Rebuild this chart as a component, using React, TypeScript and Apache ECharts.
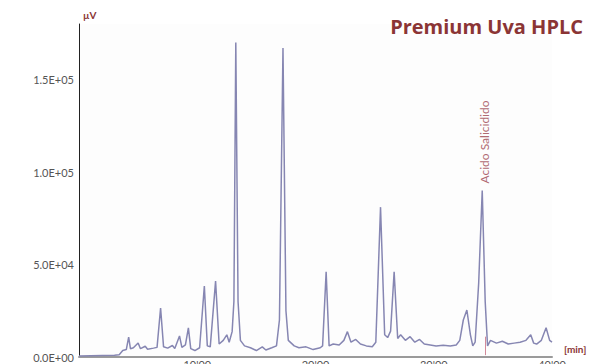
import React, { useEffect, useRef } from "react";
import * as echarts from "echarts";

const times = [
  0.0, 1.0, 2.0, 3.0, 3.4, 3.7, 4.0, 4.2, 4.35, 4.6, 5.0, 5.2, 5.6, 5.8, 6.3, 6.6, 6.9, 7.15, 7.5, 7.9,
  8.1, 8.5, 8.7, 9.0, 9.25, 9.45, 9.8, 10.2, 10.6, 10.85, 11.1, 11.55, 11.85, 12.2, 12.5, 12.7, 12.95, 13.1, 13.26, 13.45,
  13.65, 14.0, 14.5, 15.0, 15.5, 15.8, 16.3, 16.7, 16.95, 17.25, 17.5, 17.7, 18.2, 18.6, 19.2, 19.8, 20.4, 20.6, 20.9, 21.15,
  21.5, 22.0, 22.4, 22.7, 23.0, 23.4, 23.8, 24.3, 24.8, 25.1, 25.5, 25.85, 26.1, 26.35, 26.65, 26.95, 27.2, 27.6, 28.0, 28.4,
  28.8, 29.2, 29.7, 30.2, 30.8, 31.4, 31.9, 32.2, 32.5, 32.8, 33.1, 33.3, 33.5, 33.8, 34.1, 34.35, 34.55, 34.8, 35.3, 35.8,
  36.3, 36.8, 37.3, 37.8, 38.2, 38.45, 38.7, 39.1, 39.5, 39.8, 40.0,
];

const signal = [
  600, 700, 800, 900, 1200, 3500, 4000, 10800, 4500, 5000, 7600, 4500, 5800, 4200, 4800, 5200, 26500, 5500, 4800, 6200,
  4600, 11400, 5200, 6500, 15700, 4500, 3500, 5000, 38400, 6000, 5500, 41000, 7000, 9000, 12000, 8000, 13700, 30000, 170000, 30000,
  9000, 6000, 5000, 3500, 5500, 3800, 5000, 6000, 20000, 167000, 25000, 9000, 6000, 5000, 5500, 4000, 5000, 6000, 46000, 6000,
  7000, 6500, 9000, 13700, 8000, 9500, 7000, 6000, 5500, 8000, 81000, 12000, 10500, 14000, 46000, 10000, 12000, 9000, 11000, 8000,
  9500, 7000, 6500, 6000, 6300, 6000, 6500, 9000, 20000, 25400, 12000, 6000, 8000, 40000, 90000, 30000, 6000, 9000, 7500, 8500,
  7000, 7500, 8000, 9000, 12000, 7500, 7000, 9000, 15800, 9000, 8000,
];

const xTicks = [0, 10, 20, 30, 40];
const xTickLabels = ["0'00", "10'00", "20'00", "30'00", "40'00"];
const yTicks = [0, 50000, 100000, 150000];
const yTickLabels = ["0.0E+00", "5.0E+04", "1.0E+05", "1.5E+05"];

const titleText = "Premium Uva HPLC";
const yUnit = "µV";
const xUnit = "[min]";
const annotationLabel = "Acido Salicidido";
const annotationTime = 34.1;
const annotationValue = 90000;
const markerTime = 34.35;
const markerRange = [1000, 11000];

export default function App() {
  const ref = useRef<HTMLDivElement>(null);

  useEffect(() => {
    if (!ref.current) return;
    const chart = echarts.init(ref.current, undefined, { renderer: "svg" });
    const data = times.map((t, i) => [t, signal[i]]);
    const red = "#8b3535";
    chart.setOption({
      animation: false,
      backgroundColor: "#ffffff",
      title: {
        text: titleText,
        right: 2,
        top: 11,
        textStyle: { color: red, fontSize: 20, fontWeight: "bold", fontFamily: "Open Sans" },
      },
      grid: {
        left: 79,
        right: 38,
        top: 24,
        bottom: 7,
        outerBoundsMode: "none",
        containLabel: false,
        show: true,
        backgroundColor: "#fdfdfd",
        borderWidth: 0,
      },
      xAxis: {
        type: "value",
        min: 0,
        max: 40,
        interval: 10,
        name: xUnit,
        nameLocation: "end",
        nameGap: 12,
        nameTextStyle: {
          color: red,
          fontSize: 10,
          fontWeight: "bold",
          fontFamily: "Lato",
          verticalAlign: "bottom",
          padding: [0, 0, 3, 0],
        },
        axisLine: { show: true, lineStyle: { color: "#9a9a9a", width: 2 } },
        axisTick: { show: false },
        splitLine: { show: false },
        axisLabel: {
          showMinLabel: false,
          margin: 2,
          color: "#555",
          fontSize: 11,
          fontFamily: "Lato",
          formatter: (v: number) => {
            const i = xTicks.indexOf(v);
            return i >= 0 ? xTickLabels[i] : "";
          },
        },
      },
      yAxis: {
        type: "value",
        min: 0,
        max: 180000,
        interval: 50000,
        name: yUnit,
        nameLocation: "end",
        nameGap: 4,
        nameTextStyle: {
          color: red,
          fontSize: 10,
          fontWeight: "bold",
          fontFamily: "Lato",
          align: "left",
          padding: [0, 0, 0, 4],
        },
        axisLine: { show: true, lineStyle: { color: "#222", width: 1 } },
        axisTick: { show: false },
        splitLine: { show: false },
        axisLabel: {
          showMaxLabel: false,
          margin: 5,
          padding: [0, 0, 5, 0],
          color: "#555",
          fontSize: 11,
          fontFamily: "Lato",
          formatter: (v: number) => {
            const i = yTicks.indexOf(v);
            return i >= 0 ? yTickLabels[i] : "";
          },
        },
      },
      series: [
        {
          type: "line",
          data,
          showSymbol: false,
          symbol: "none",
          lineStyle: { color: "#8686b2", width: 1.5 },
          markLine: {
            silent: true,
            symbol: "none",
            label: { show: false },
            lineStyle: { color: "#d38a9a", width: 1, type: "solid" },
            data: [
              [
                { coord: [markerTime, markerRange[0]] },
                { coord: [markerTime, markerRange[1]] },
              ],
            ],
          },
        },
      ],
    });
    const p = chart.convertToPixel({ gridIndex: 0 }, [annotationTime, annotationValue]) as number[];
    chart.setOption({
      graphic: [
        {
          type: "text",
          x: p[0] + 2,
          y: p[1] - 7,
          rotation: Math.PI / 2,
          style: {
            text: annotationLabel,
            fill: "#b06a72",
            fontSize: 12,
            fontFamily: "Lato",
            align: "left",
            verticalAlign: "middle",
          },
        },
      ],
    });
    return () => chart.dispose();
  }, []);

  return (
    <div
      ref={ref}
      style={{ position: "absolute", left: 0, top: 0, width: 590, height: 364 }}
    />
  );
}
